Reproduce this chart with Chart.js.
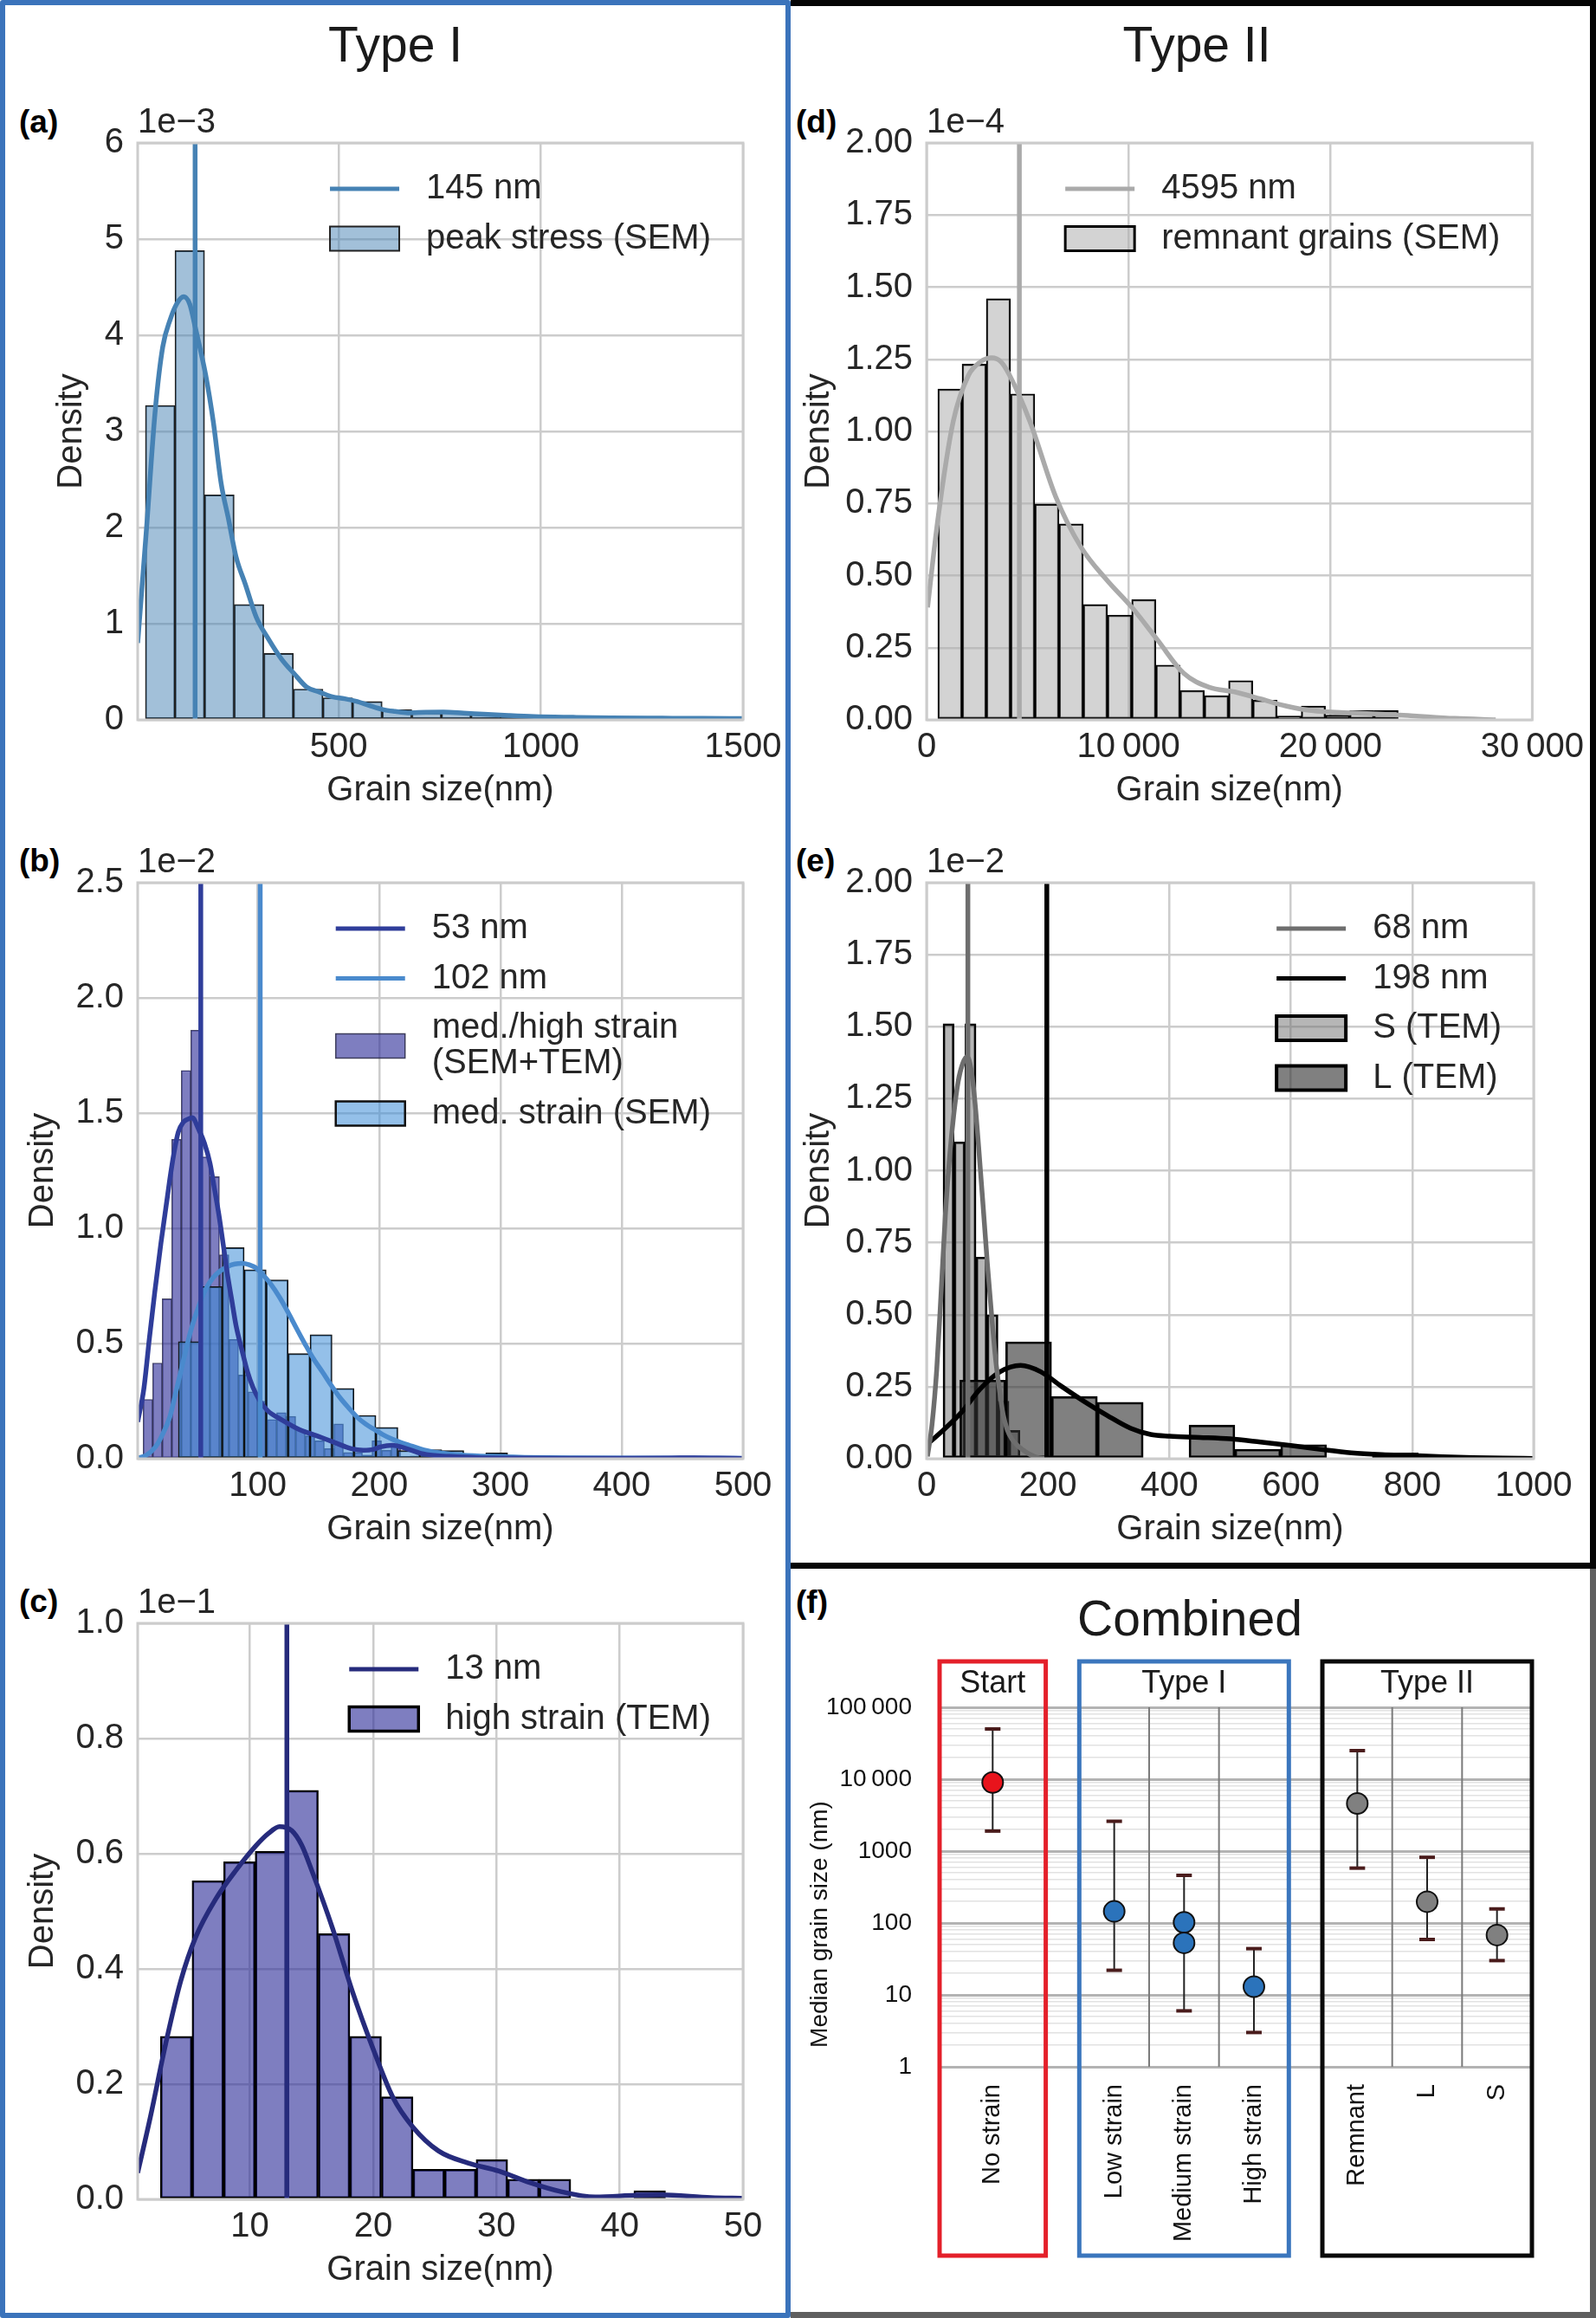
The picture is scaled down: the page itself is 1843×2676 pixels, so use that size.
<!DOCTYPE html>
<html>
<head>
<meta charset="utf-8">
<script src="https://cdn.jsdelivr.net/npm/chart.js@4.4.1/dist/chart.umd.min.js"></script>
<style>
  html, body { margin: 0; padding: 0; background: #fff; overflow: hidden; }
  #page { position: relative; width: 1843px; height: 2676px; overflow: hidden;
          font-family: 'Liberation Sans', Arial, sans-serif; color: #1a1a1a; }
  .frame { position: absolute; box-sizing: border-box; pointer-events: none; z-index: 2; }
  .txt { position: absolute; white-space: nowrap; line-height: 1; transform: translateY(-50%); }
  .head { font-size: 57px; text-align: center; }
  .tag { font-size: 37px; font-weight: bold; color: #000; }
  canvas { position: absolute; }
</style>
</head>
<body>
<div id="page">
  <div class="frame" style="left:0;top:0;width:913px;height:2676px;border:6.5px solid #3b73bb;border-radius:3px"></div>
  <div class="frame" style="left:913px;top:0;width:930px;height:1811px;border-top:7px solid #050505;border-right:7px solid #050505;border-bottom:7px solid #050505"></div>
  <div class="frame" style="left:913px;top:1811px;width:930px;height:865px;border-right:7px solid #5f5f5f;border-bottom:7px solid #5f5f5f"></div>

  <div class="txt head" style="left:0;width:913px;top:51px">Type I</div>
  <div class="txt head" style="left:913px;width:938px;top:51px">Type II</div>
  <div class="txt head" style="left:913px;width:922px;top:1868px">Combined</div>

  <div class="txt tag" style="left:22px;top:140px">(a)</div>
  <div class="txt tag" style="left:22px;top:993px">(b)</div>
  <div class="txt tag" style="left:22px;top:1848px">(c)</div>
  <div class="txt tag" style="left:919px;top:140px">(d)</div>
  <div class="txt tag" style="left:919px;top:993px">(e)</div>
  <div class="txt tag" style="left:919px;top:1849px">(f)</div>
</div>

<script>
// ---------- (a) peak stress (SEM), density x 1e-3 ----------
const aMedian = 145;
const aBinStart = 22;
const aBinWidth = 73.2;
const aDensity = [3.27, 4.88, 2.34, 1.20, 0.69, 0.32, 0.23, 0.19, 0.105, 0.07, 0.08, 0.06, 0.05,
                  0.03, 0.02, 0.02, 0.01, 0.01, 0.01, 0.0];
const aKdeX = [3, 25, 46, 65, 84, 100, 117, 132, 146, 171, 190, 209, 228, 246, 270, 296, 325, 359, 390,
               421, 452, 484, 515, 546, 578, 609, 640, 671, 715, 759, 809, 859, 920, 984, 1080, 1171,
               1300, 1400, 1500];
const aKdeY = [0.80, 2.0, 3.2, 3.88, 4.17, 4.33, 4.40, 4.32, 4.07, 3.59, 3.1, 2.47, 2.08, 1.70, 1.40,
               1.07, 0.85, 0.63, 0.48, 0.34, 0.29, 0.24, 0.22, 0.19, 0.145, 0.107, 0.087, 0.073, 0.078,
               0.08, 0.07, 0.058, 0.045, 0.034, 0.026, 0.02, 0.017, 0.015, 0.014];
const aXTicks = [500, 1000, 1500];
const aXLabels = ['500', '1000', '1500'];
const aYTicks = [0, 1, 2, 3, 4, 5, 6];
const aYLabels = ['0', '1', '2', '3', '4', '5', '6'];

// ---------- (b) med./high strain (SEM+TEM) and med. strain (SEM), x 1e-2 ----------
const bDarkMedian = 53;
const bLightMedian = 102;
const bDarkStart = 5.5;
const bDarkWidth = 7.86;
const bDarkDensity = [0.257, 0.415, 0.694, 1.386, 1.685, 1.86, 1.31, 1.224, 0.885, 0.518, 0.363, 0.29,
                      0.25, 0.17, 0.20, 0.184, 0.126, 0.099, 0.078, 0.044, 0.151, 0.027, 0.027, 0.016,
                      0.078, 0.037, 0.058, 0.01, 0.012, 0.02, 0.008, 0.01, 0.005, 0.005, 0, 0.004,
                      0, 0, 0, 0, 0, 0, 0, 0, 0.004, 0, 0, 0, 0, 0, 0, 0, 0, 0, 0, 0, 0, 0.004, 0.004];
const bLightStart = 34.5;
const bLightWidth = 18.1;
const bLightDensity = [0.508, 0.747, 0.916, 0.82, 0.776, 0.456, 0.538, 0.305, 0.188, 0.136, 0.035,
                       0.039, 0.035, 0.004, 0.025, 0, 0, 0.005, 0, 0, 0, 0, 0, 0.004];
const bDarkKdeX = [1, 6, 10.7, 15, 20.2, 24, 27.4, 31, 34.5, 38.5, 42.9, 46, 51.2, 56, 60.7, 64, 67.9,
                   71.5, 75, 78.5, 82, 87, 91.7, 96, 101, 108, 120, 134.5, 148.8, 163, 177, 187, 195,
                   201, 211, 222.6, 234.5, 246, 258, 280, 310, 350, 400, 440, 460, 480, 500];
const bDarkKdeY = [0.16, 0.3, 0.525, 0.72, 0.937, 1.08, 1.21, 1.33, 1.418, 1.46, 1.475, 1.48, 1.43,
                   1.37, 1.28, 1.18, 1.06, 0.93, 0.80, 0.69, 0.58, 0.47, 0.374, 0.31, 0.257, 0.209,
                   0.168, 0.126, 0.099, 0.071, 0.044, 0.037, 0.04, 0.051, 0.058, 0.044, 0.023, 0.014,
                   0.01, 0.005, 0.003, 0.002, 0.002, 0.003, 0.004, 0.003, 0.001];
const bLightKdeX = [1, 8, 15.5, 21, 27.4, 33, 39.3, 45, 51.2, 57, 63, 69, 75, 81, 86.9, 93, 98.8,
                    104.5, 110.7, 118, 125, 132, 139, 146, 153.6, 161, 167.9, 175, 182, 189, 196.4,
                    203, 210.7, 218, 225, 234, 244, 256, 268, 290, 320, 360, 420, 500];
const bLightKdeY = [0.003, 0.015, 0.05, 0.1, 0.18, 0.3, 0.44, 0.56, 0.66, 0.735, 0.785, 0.815, 0.834,
                    0.845, 0.848, 0.842, 0.827, 0.797, 0.758, 0.70, 0.635, 0.565, 0.497, 0.433, 0.374,
                    0.315, 0.264, 0.22, 0.18, 0.15, 0.126, 0.105, 0.085, 0.07, 0.058, 0.043, 0.03,
                    0.022, 0.016, 0.01, 0.006, 0.004, 0.003, 0.002];
const bXTicks = [100, 200, 300, 400, 500];
const bXLabels = ['100', '200', '300', '400', '500'];
const bYTicks = [0, 0.5, 1.0, 1.5, 2.0, 2.5];
const bYLabels = ['0.0', '0.5', '1.0', '1.5', '2.0', '2.5'];

// ---------- (c) high strain (TEM), x 1e-1 ----------
const cMedian = 13;
const cBinStart = 2.75;
const cBinWidth = 2.56;
const cDensity = [0.283, 0.553, 0.586, 0.604, 0.710, 0.461, 0.283, 0.178, 0.052, 0.052, 0.069, 0.035,
                  0.035, 0, 0, 0.015];
const cKdeX = [0.9, 1.93, 3.16, 4.39, 5.6, 7.25, 8.9, 10.5, 11.5, 12.4, 13.4, 14.2, 15.0, 16.7, 18.3,
               20, 21.6, 23.2, 25.3, 27.7, 30.2, 32.7, 35.1, 38, 41.3, 43.3, 47.4, 50];
const cKdeY = [0.046, 0.143, 0.269, 0.379, 0.455, 0.522, 0.572, 0.614, 0.635, 0.647, 0.64, 0.615,
               0.572, 0.471, 0.362, 0.261, 0.177, 0.126, 0.084, 0.063, 0.049, 0.029, 0.014, 0.004,
               0.007, 0.008, 0.003, 0.002];
const cXTicks = [10, 20, 30, 40, 50];
const cXLabels = ['10', '20', '30', '40', '50'];
const cYTicks = [0, 0.2, 0.4, 0.6, 0.8, 1.0];
const cYLabels = ['0.0', '0.2', '0.4', '0.6', '0.8', '1.0'];

// ---------- (d) remnant grains (SEM), x 1e-4 ----------
const dMedian = 4595;
const dBinStart = 558;
const dBinWidth = 1200;
const dDensity = [1.147, 1.233, 1.46, 1.13, 0.748, 0.679, 0.40, 0.363, 0.417, 0.19, 0.102, 0.084,
                  0.136, 0.068, 0.013, 0.048, 0.016, 0.032, 0.032];
const dKdeX = [50, 558, 1318, 2079, 2650, 3219, 3700, 4106, 5120, 6388, 7655, 8923, 10190, 11458,
               12725, 13992, 15260, 16527, 17795, 19062, 21090, 23625, 26160, 28188];
const dKdeY = [0.39, 0.695, 1.034, 1.195, 1.24, 1.255, 1.24, 1.195, 1.034, 0.775, 0.598, 0.485, 0.388,
               0.275, 0.162, 0.113, 0.097, 0.073, 0.048, 0.032, 0.024, 0.016, 0.005, 0.0];
const dXTicks = [0, 10000, 20000, 30000];
const dXLabels = ['0', '10\u2009000', '20\u2009000', '30\u2009000'];
const dYTicks = [0, 0.25, 0.5, 0.75, 1.0, 1.25, 1.5, 1.75, 2.0];
const dYLabels = ['0.00', '0.25', '0.50', '0.75', '1.00', '1.25', '1.50', '1.75', '2.00'];

// ---------- (e) S (TEM) and L (TEM), x 1e-2 ----------
const eSMedian = 68;
const eLMedian = 198;
const eSStart = 27.1;
const eSWidth = 18.1;
const eSDensity = [1.51, 1.10, 1.51, 0.70, 0.50, 0.20, 0.098];
const eLStart = 54.8;
const eLWidth = 75.5;
const eLDensity = [0.273, 0.406, 0.216, 0.196, 0, 0.117, 0.033, 0.049, 0, 0.02];
const eSKdeX = [1.4, 9, 16.7, 24, 31, 38, 45, 52, 59.5, 66.7, 73.8, 80, 85.7, 93, 100, 107, 114, 120,
                126, 133, 140.5, 150, 159.5, 170, 183, 200];
const eSKdeY = [0.008, 0.12, 0.31, 0.58, 0.85, 1.05, 1.20, 1.31, 1.372, 1.396, 1.345, 1.23, 1.083,
                0.88, 0.679, 0.50, 0.34, 0.24, 0.155, 0.1, 0.068, 0.045, 0.029, 0.015, 0.004, 0.0];
const eLKdeX = [0, 31, 59.5, 88, 121, 154.8, 188, 221, 259.5, 297.6, 335.7, 369, 400, 450, 500, 550,
                600, 650, 700, 750, 800, 850, 900, 950, 1000];
const eLKdeY = [0.048, 0.106, 0.166, 0.242, 0.302, 0.324, 0.302, 0.253, 0.199, 0.15, 0.106, 0.084,
                0.078, 0.074, 0.069, 0.058, 0.046, 0.032, 0.02, 0.014, 0.011, 0.007, 0.004, 0.002, 0.001];
const eXTicks = [0, 200, 400, 600, 800, 1000];
const eXLabels = ['0', '200', '400', '600', '800', '1000'];
const eYTicks = dYTicks;
const eYLabels = dYLabels;

// ---------- (f) combined medians with ranges (nm) ----------
const fGroups = ['Start', 'Type I', 'Type II'];
const fCats = ['No strain', 'Low strain', 'Medium strain', 'High strain', 'Remnant', 'L', 'S'];
const fGroupOf = [0, 1, 1, 1, 2, 2, 2];
const fMedians = [[9000], [145], [102, 53], [13], [4595], [198], [68]];
const fLow = [1900, 22, 6, 3, 580, 59, 30];
const fHigh = [50000, 2600, 460, 44, 25000, 820, 157];
const fTickValues = [1, 10, 100, 1000, 10000, 100000];
const fTickLabels = ['1', '10', '100', '1000', '10\u2009000', '100\u2009000'];

// ---------- drawing ----------
const FONT = "'Liberation Sans', Arial, sans-serif";
const INK = '#262626';
const GRID = '#cccccc';

function bins(start, width, density) {
    return density.map((d, i) => ({ x: start + (i + 0.5) * width, y: d }));
}

function curve(xs, ys) {
    return xs.map((x, i) => ({ x: x, y: ys[i] }));
}

function vline(x, top) {
    return [{ x: x, y: 0 }, { x: x, y: top }];
}

function addCanvas(left, top, width, height) {
    const c = document.createElement('canvas');
    c.width = width;
    c.height = height;
    c.style.left = left + 'px';
    c.style.top = top + 'px';
    c.style.width = width + 'px';
    c.style.height = height + 'px';
    document.getElementById('page').appendChild(c);
    return c.getContext('2d');
}

function drawLegend(ctx, area, items) {
    ctx.font = `40px ${FONT}`;
    const rows = items.map(it => it.label.split('\n'));
    const textW = Math.max(...rows.flat().map(t => ctx.measureText(t).width));
    const textLeft = area.right - 37 - textW;
    const handleLeft = textLeft - 31 - 80;
    let y = area.top + 53;
    items.forEach((it, i) => {
        const lines = rows[i];
        const mid = y + (lines.length - 1) * 41 / 2;
        if (it.kind === 'line') {
            ctx.strokeStyle = it.color;
            ctx.lineWidth = 5;
            ctx.beginPath();
            ctx.moveTo(handleLeft, mid);
            ctx.lineTo(handleLeft + 80, mid);
            ctx.stroke();
        } else {
            ctx.fillStyle = it.fill;
            ctx.fillRect(handleLeft, mid - 14, 80, 28);
            ctx.strokeStyle = it.edge;
            ctx.lineWidth = it.edgeWidth;
            ctx.strokeRect(handleLeft, mid - 14, 80, 28);
        }
        ctx.fillStyle = INK;
        ctx.textAlign = 'left';
        ctx.textBaseline = 'middle';
        lines.forEach((t, k) => ctx.fillText(t, textLeft, y + k * 41));
        y += 57.5 + (lines.length - 1) * 41;
    });
}

function decoPlugin(legendItems, offsetText) {
    return {
        id: 'deco',
        afterDatasetsDraw(chart) {
            const ctx = chart.ctx;
            const a = chart.chartArea;
            ctx.save();
            // axes frame (light grey spines on all four sides)
            ctx.strokeStyle = GRID;
            ctx.lineWidth = 3;
            ctx.strokeRect(a.left, a.top, a.right - a.left, a.bottom - a.top);
            // scale multiplier above the y axis
            ctx.font = `40px ${FONT}`;
            ctx.fillStyle = INK;
            ctx.textAlign = 'left';
            ctx.textBaseline = 'alphabetic';
            ctx.fillText(offsetText, a.left, a.top - 12);
            drawLegend(ctx, a, legendItems);
            ctx.restore();
        }
    };
}

function histPanel(box, spec) {
    const padTop = 60, padRight = 66, xAxisH = 106, padBottom = 6;
    const yAxisW = spec.titleGap + 24;
    const left = box.l - yAxisW;
    const top = box.t - padTop;
    const width = yAxisW + (box.r - box.l) + padRight;
    const height = padTop + (box.b - box.t) + xAxisH + padBottom;
    const ctx = addCanvas(left, top, width, height);
    const font = { size: 40, family: FONT };

    const scales = {
        x: {
            type: 'linear', min: spec.xMin, max: spec.xMax, offset: false,
            afterBuildTicks: s => { s.ticks = spec.xTicks.map(v => ({ value: v })); },
            afterFit: s => { s.height = xAxisH; },
            ticks: { callback: (v, i) => spec.xLabels[i], font: font, color: INK, padding: 8,
                     autoSkip: false, minRotation: 0, maxRotation: 0 },
            grid: { color: GRID, lineWidth: 2.5, drawTicks: false, offset: false },
            border: { display: false },
            title: { display: true, text: 'Grain size(nm)', font: font, color: INK, padding: 0 }
        },
        y: {
            type: 'linear', min: 0, max: spec.yMax,
            afterBuildTicks: s => { s.ticks = spec.yTicks.map(v => ({ value: v })); },
            afterFit: s => { s.width = yAxisW; },
            ticks: { callback: (v, i) => spec.yLabels[i], font: font, color: INK, padding: 16, autoSkip: false },
            grid: { color: GRID, lineWidth: 2.5, drawTicks: false },
            border: { display: false },
            title: { display: true, text: 'Density', font: font, color: INK, padding: 0 }
        }
    };

    const datasets = [];
    spec.lines.forEach(l => {
        datasets.push({
            type: 'line', data: l.data, xAxisID: 'x', yAxisID: 'y',
            borderColor: l.color, borderWidth: l.width || 5.5, pointRadius: 0, fill: false,
            tension: 0, cubicInterpolationMode: l.smooth ? 'monotone' : 'default',
            order: l.order
        });
    });
    // every histogram gets its own hidden x axis so Chart.js sizes its bars from its own bin width
    spec.bars.forEach((b, i) => {
        const id = 'xb' + i;
        scales[id] = {
            type: 'linear', display: false, min: spec.xMin, max: spec.xMax, offset: false,
            afterBuildTicks: s => { s.ticks = [{ value: s.min }, { value: s.max }]; }
        };
        datasets.push({
            type: 'bar', data: b.data, xAxisID: id, yAxisID: 'y',
            backgroundColor: b.fill, borderColor: b.edge, borderWidth: b.edgeWidth,
            borderSkipped: false, barPercentage: 1, categoryPercentage: 1, grouped: false,
            order: b.order
        });
    });

    return new Chart(ctx, {
        type: 'bar',
        data: { datasets: datasets },
        options: {
            responsive: false,
            animation: false,
            events: [],
            layout: { padding: { left: 0, top: padTop, right: padRight, bottom: padBottom } },
            plugins: { legend: { display: false }, tooltip: { enabled: false } },
            scales: scales
        },
        plugins: [decoPlugin(spec.legend, spec.offsetText)]
    });
}

// colours
const blueA = '#4682b4', blueAFill = 'rgba(70,130,180,0.5)';
const navyB = '#2f3d9a', purpleFill = 'rgba(40,40,150,0.6)';
const blueB = '#4a8acd', blueBFill = 'rgba(60,140,215,0.55)';
const navyC = '#262b7c';
const greyD = '#aaaaaa', greyDFill = 'rgba(175,175,175,0.55)';
const greyS = '#6e6e6e', greySFill = 'rgba(110,110,110,0.5)';
const darkL = '#000000', darkLFill = 'rgba(50,50,50,0.62)';

histPanel({ l: 159, t: 165, r: 858, b: 831 }, {
    xMin: 3, xMax: 1500, xTicks: aXTicks, xLabels: aXLabels,
    yMax: 6, yTicks: aYTicks, yLabels: aYLabels, titleGap: 76, offsetText: '1e\u22123',
    lines: [
        { data: vline(aMedian, 6), color: blueA, order: 0 },
        { data: curve(aKdeX, aKdeY), color: blueA, smooth: true, order: 1 }
    ],
    bars: [{ data: bins(aBinStart, aBinWidth, aDensity), fill: blueAFill, edge: '#1e1e1e', edgeWidth: 1.3, order: 2 }],
    legend: [
        { kind: 'line', color: blueA, label: `${aMedian} nm` },
        { kind: 'patch', fill: blueAFill, edge: '#222', edgeWidth: 2, label: 'peak stress (SEM)' }
    ]
});

histPanel({ l: 159, t: 1019, r: 858, b: 1684 }, {
    xMin: 1, xMax: 500, xTicks: bXTicks, xLabels: bXLabels,
    yMax: 2.5, yTicks: bYTicks, yLabels: bYLabels, titleGap: 109, offsetText: '1e\u22122',
    lines: [
        { data: vline(bDarkMedian, 2.5), color: navyB, order: 0 },
        { data: vline(bLightMedian, 2.5), color: blueB, order: 0 },
        { data: curve(bDarkKdeX, bDarkKdeY), color: navyB, smooth: true, order: 1 },
        { data: curve(bLightKdeX, bLightKdeY), color: blueB, smooth: true, order: 1 }
    ],
    bars: [
        { data: bins(bDarkStart, bDarkWidth, bDarkDensity), fill: purpleFill, edge: 'rgba(30,30,60,0.8)', edgeWidth: 0.9, order: 4 },
        { data: bins(bLightStart, bLightWidth, bLightDensity), fill: blueBFill, edge: '#111', edgeWidth: 1.3, order: 3 }
    ],
    legend: [
        { kind: 'line', color: navyB, label: `${bDarkMedian} nm` },
        { kind: 'line', color: blueB, label: `${bLightMedian} nm` },
        { kind: 'patch', fill: purpleFill, edge: 'rgba(30,30,60,0.8)', edgeWidth: 1.5, label: 'med./high strain\n(SEM+TEM)' },
        { kind: 'patch', fill: blueBFill, edge: '#111', edgeWidth: 2.5, label: 'med. strain (SEM)' }
    ]
});

histPanel({ l: 159, t: 1874, r: 858, b: 2539 }, {
    xMin: 0.9, xMax: 50, xTicks: cXTicks, xLabels: cXLabels,
    yMax: 1.0, yTicks: cYTicks, yLabels: cYLabels, titleGap: 109, offsetText: '1e\u22121',
    lines: [
        { data: vline(cMedian, 1.0), color: navyC, order: 0 },
        { data: curve(cKdeX, cKdeY), color: navyC, smooth: true, order: 1 }
    ],
    bars: [{ data: bins(cBinStart, cBinWidth, cDensity), fill: purpleFill, edge: '#000', edgeWidth: 2, order: 2 }],
    legend: [
        { kind: 'line', color: navyC, label: `${cMedian} nm` },
        { kind: 'patch', fill: purpleFill, edge: '#000', edgeWidth: 3.5, label: 'high strain (TEM)' }
    ]
});

histPanel({ l: 1070, t: 165, r: 1771, b: 831 }, {
    xMin: 0, xMax: 30000, xTicks: dXTicks, xLabels: dXLabels,
    yMax: 2.0, yTicks: dYTicks, yLabels: dYLabels, titleGap: 124, offsetText: '1e\u22124',
    lines: [
        { data: vline(dMedian, 2.0), color: greyD, order: 0 },
        { data: curve(dKdeX, dKdeY), color: greyD, smooth: true, order: 1 }
    ],
    bars: [{ data: bins(dBinStart, dBinWidth, dDensity), fill: greyDFill, edge: '#000', edgeWidth: 1.8, order: 2 }],
    legend: [
        { kind: 'line', color: greyD, label: `${dMedian} nm` },
        { kind: 'patch', fill: greyDFill, edge: '#000', edgeWidth: 3, label: 'remnant grains (SEM)' }
    ]
});

histPanel({ l: 1070, t: 1019, r: 1771, b: 1684 }, {
    xMin: 0, xMax: 1000, xTicks: eXTicks, xLabels: eXLabels,
    yMax: 2.0, yTicks: eYTicks, yLabels: eYLabels, titleGap: 124, offsetText: '1e\u22122',
    lines: [
        { data: vline(eSMedian, 2.0), color: greyS, order: 0 },
        { data: vline(eLMedian, 2.0), color: darkL, order: 0 },
        { data: curve(eSKdeX, eSKdeY), color: greyS, smooth: true, order: 1 },
        { data: curve(eLKdeX, eLKdeY), color: darkL, smooth: true, order: 1 }
    ],
    bars: [
        { data: bins(eSStart, eSWidth, eSDensity), fill: greySFill, edge: '#000', edgeWidth: 2.2, order: 4 },
        { data: bins(eLStart, eLWidth, eLDensity), fill: darkLFill, edge: '#000', edgeWidth: 2.2, order: 3 }
    ],
    legend: [
        { kind: 'line', color: greyS, label: `${eSMedian} nm` },
        { kind: 'line', color: darkL, label: `${eLMedian} nm` },
        { kind: 'patch', fill: greySFill, edge: '#000', edgeWidth: 4, label: 'S (TEM)' },
        { kind: 'patch', fill: darkLFill, edge: '#000', edgeWidth: 4, label: 'L (TEM)' }
    ]
});

// ---------- (f) combined ----------
// groups sit side by side on a hidden linear x axis: one wide "Start" column, then two 3-column boxes
function groupLayout() {
    const spans = [];
    let x = 0;
    fGroups.forEach((g, gi) => {
        const n = fGroupOf.filter(k => k === gi).length;
        const w = n === 1 ? 1.52 : n;
        spans.push({ from: x, to: x + w, n: n });
        x += w + 0.48;
    });
    return { spans: spans, max: x - 0.48 };
}
const fLayout = groupLayout();
const fPos = fCats.map((c, i) => {
    const sp = fLayout.spans[fGroupOf[i]];
    const k = fGroupOf.slice(0, i).filter(g => g === fGroupOf[i]).length;
    return sp.from + (k + 0.5) * (sp.to - sp.from) / sp.n;
});

const groupEdge = ['#e4202a', '#3b76bd', '#0a0a0a'];
const groupDot = ['#e8141c', '#2b73bb', '#808080'];

const combinedDeco = {
    id: 'combinedDeco',
    beforeDatasetsDraw(chart) {
        const { ctx, chartArea: a, scales: { x } } = chart;
        ctx.save();
        ctx.strokeStyle = '#7a7a7a';
        ctx.lineWidth = 2;
        fLayout.spans.forEach(sp => {
            for (let k = 1; k < sp.n; k++) {
                const px = x.getPixelForValue(sp.from + k * (sp.to - sp.from) / sp.n);
                ctx.beginPath();
                ctx.moveTo(px, a.top);
                ctx.lineTo(px, a.bottom);
                ctx.stroke();
            }
        });
        ctx.restore();
    },
    afterDraw(chart) {
        const { ctx, chartArea: a, scales: { x } } = chart;
        ctx.save();
        fLayout.spans.forEach((sp, gi) => {
            const x0 = x.getPixelForValue(sp.from), x1 = x.getPixelForValue(sp.to);
            ctx.strokeStyle = groupEdge[gi];
            ctx.lineWidth = 5;
            ctx.strokeRect(x0, a.top - 53, x1 - x0, a.bottom - a.top + 53 + 218);
            ctx.fillStyle = '#1a1a1a';
            ctx.font = `36px ${FONT}`;
            ctx.textAlign = 'center';
            ctx.textBaseline = 'middle';
            ctx.fillText(fGroups[gi], (x0 + x1) / 2, a.top - 27);
        });
        // rotated category names below the axis
        ctx.font = `29px ${FONT}`;
        ctx.fillStyle = '#111';
        fCats.forEach((c, i) => {
            ctx.save();
            ctx.translate(x.getPixelForValue(fPos[i]), a.bottom + 20);
            ctx.rotate(-Math.PI / 2);
            ctx.textAlign = 'right';
            ctx.textBaseline = 'middle';
            ctx.fillText(c, 0, 0);
            ctx.restore();
        });
        // y axis title
        ctx.save();
        ctx.font = `28px ${FONT}`;
        ctx.translate(a.left - 138, (a.top + a.bottom) / 2 + 43);
        ctx.rotate(-Math.PI / 2);
        ctx.textAlign = 'center';
        ctx.textBaseline = 'middle';
        ctx.fillText('Median grain size (nm)', 0, 0);
        ctx.restore();
        ctx.restore();
    }
};

function combinedPanel() {
    // canvas spans the grey-framed cell; chart area is 1085..1769 x 1971..2386 on the page
    const left = 913, top = 1811, width = 923, height = 857;
    const ctx = addCanvas(left, top, width, height);

    const datasets = fCats.map((c, i) => ({
        data: [{ x: fPos[i], y: fLow[i] }, { x: fPos[i], y: fHigh[i] }],
        showLine: true, borderColor: '#222', borderWidth: 2,
        pointStyle: 'line', pointRadius: 9, pointBorderColor: '#4a1c1c', pointBorderWidth: 4,
        order: 1
    }));
    const pts = [], cols = [];
    fMedians.forEach((m, i) => m.forEach(v => {
        pts.push({ x: fPos[i], y: v });
        cols.push(groupDot[fGroupOf[i]]);
    }));
    datasets.push({
        data: pts, showLine: false, pointRadius: 12, pointBackgroundColor: cols,
        pointBorderColor: '#111', pointBorderWidth: 2, order: 0
    });

    return new Chart(ctx, {
        type: 'scatter',
        data: { datasets: datasets },
        options: {
            responsive: false,
            animation: false,
            events: [],
            layout: { padding: { left: 0, top: 160, right: 67, bottom: 282 } },
            plugins: { legend: { display: false }, tooltip: { enabled: false } },
            scales: {
                x: { type: 'linear', display: false, min: 0, max: fLayout.max },
                y: {
                    type: 'logarithmic', min: 1, max: 100000,
                    afterBuildTicks: s => {
                        const ticks = [];
                        fTickValues.forEach((v, i) => {
                            ticks.push({ value: v, major: true });
                            if (i < fTickValues.length - 1) {
                                for (let m = 2; m <= 9; m++) ticks.push({ value: v * m, major: false });
                            }
                        });
                        s.ticks = ticks;
                    },
                    afterFit: s => { s.width = 172; },
                    ticks: {
                        callback: (v, i, ticks) => ticks[i].major ? fTickLabels[fTickValues.indexOf(v)] : '',
                        font: { size: 28, family: FONT }, color: '#111', padding: 32, autoSkip: false
                    },
                    grid: {
                        color: c => (c.tick && c.tick.major) ? '#b3b3b3' : '#e2e2e2',
                        lineWidth: c => (c.tick && c.tick.major) ? 3 : 1.5,
                        drawTicks: false
                    },
                    border: { display: false }
                }
            }
        },
        plugins: [combinedDeco]
    });
}

combinedPanel();
</script>
</body>
</html>
